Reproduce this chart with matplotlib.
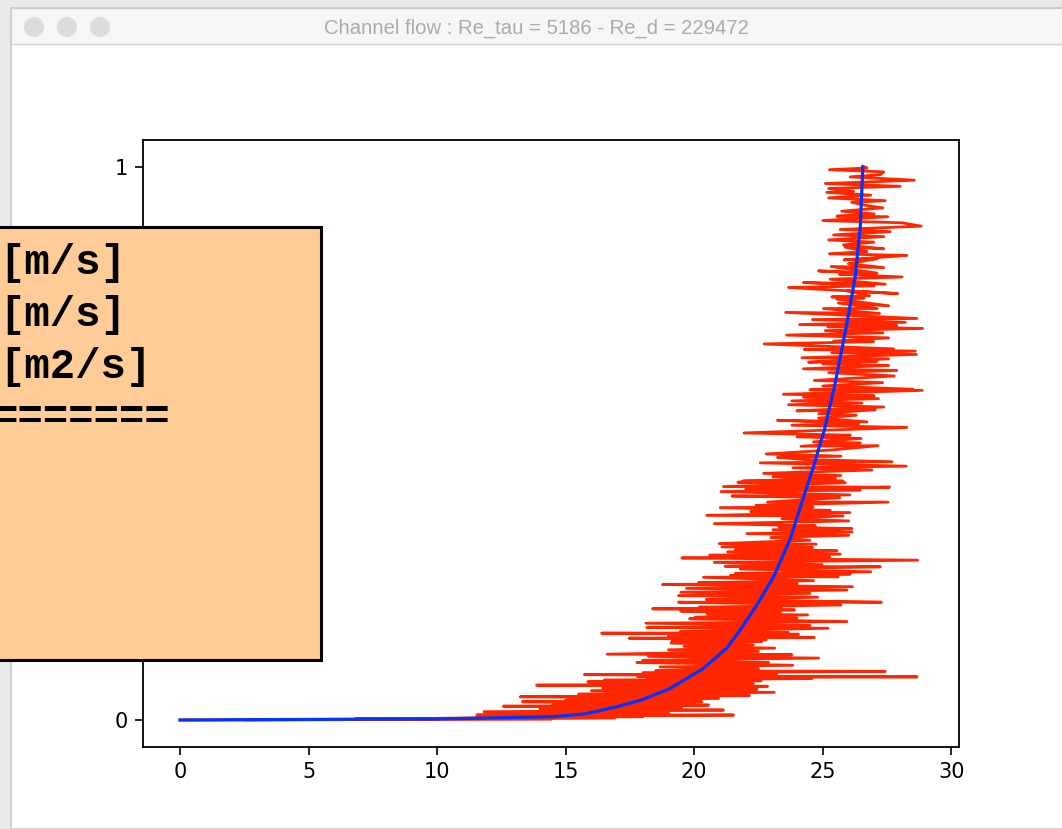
import matplotlib
matplotlib.use("Agg")
import matplotlib.pyplot as plt
from matplotlib.patches import Rectangle, Circle

W, H = 1062, 829
window_title = "Channel flow : Re_tau = 5186 - Re_d = 229472"
box_lines = ["[m/s]", "[m/s]", "[m2/s]", "======="]
x_ticks = [0, 5, 10, 15, 20, 25, 30]
y_ticks = [0.0, 1.0]

mean_u = [0, 2, 5, 7, 10, 11.28, 14.46, 15.75, 16.99, 18.0, 19.06, 19.71, 20.35, 21.27, 21.79,
          22.44, 23.09, 23.74, 24.26, 24.64, 24.84, 25.06, 25.48, 25.94, 26.26, 26.46, 26.56]
mean_y = [0, .0005, .001, .0015, .002, .003, .006, .011, .024, .037, .057, .075, .093, .130, .163,
          .208, .259, .328, .404, .458, .490, .524, .608, .717, .801, .891, 1.0]

inst_u = [26.56, 26.72, 25.26, 27.37, 27.24, 26.07, 28.56, 25.10, 28.01, 25.23, 26.20, 25.16, 26.87, 25.23,
          27.43, 26.13, 26.72, 27.34, 25.74, 27.00, 25.55, 27.53, 25.00, 28.08, 28.83, 25.68, 27.62, 25.42,
          27.37, 25.23, 26.98, 25.81, 27.37, 25.87, 26.72, 25.26, 28.27, 25.83, 27.11, 26.00, 27.37, 25.33,
          27.11, 24.84, 26.9, 25.65, 28.08, 25.29, 27.43, 24.25, 27.0, 23.67, 27.91, 25.94, 26.82, 25.35,
          26.6, 25.55, 27.56, 25.61, 27.11, 25.03, 27.21, 23.56, 28.66, 24.6, 28.21, 24.10, 27.88, 25.2,
          28.88, 25.1, 27.34, 23.60, 27.56, 25.42, 26.98, 22.72, 27.75, 24.28, 28.60, 25.35, 28.64, 24.19,
          27.56, 24.45, 27.11, 25.0, 27.56, 24.25, 27.88, 25.23, 27.78, 24.67, 27.33, 25.0, 28.51, 24.5, 28.87,
          23.47, 27.0, 24.25, 27.17, 23.80, 26.52, 23.67, 27.37, 23.99, 27.04, 24.84, 26.30, 24.84, 26.72, 23.24,
          26.4, 23.80, 28.27, 21.94, 26.07, 24.0, 26.49, 24.64, 26.46, 24.15, 27.15, 25.29, 22.80, 25.71, 23.24,
          24.26, 27.69, 22.57, 28.24, 23.84, 26.91, 22.70, 25.7, 23.06, 25.49, 21.89, 25.79, 21.7, 25.88, 21.14,
          27.60, 22.0, 26.46, 21.04, 26.05, 21.47, 25.66, 22.85, 27.54, 22.4, 24.62, 21.01, 25.29, 22.2, 26.05,
          20.49, 25.79, 23.41, 26.01, 20.78, 24.71, 23.3, 26.14, 23.06, 26.14, 22.05, 26.01, 22.98, 24.5, 20.97,
          24.74, 21.08, 24.6, 21.6, 25.55, 21.30, 25.68, 20.60, 25.27, 19.52, 28.69, 20.78, 24.97, 21.2, 27.24,
          21.79, 26.87, 21.6, 26.07, 21.40, 25.6, 20.36, 24.64, 20.17, 24.0, 18.77, 26.15, 19.7, 25.94, 19.48,
          24.5, 19.39, 24.8, 20.47, 27.28, 19.39, 25.71, 20.2, 23.4, 18.38, 23.9, 19.48, 23.35, 20.5, 24.41,
          20.04, 24.0, 19.82, 25.94, 18.12, 24.5, 18.16, 25.20, 19.46, 23.66, 16.40, 24.06, 19.0, 24.67, 17.47,
          22.8, 19.13, 22.63, 19.1, 22.3, 19.6, 23.13, 19.0, 22.5, 16.62, 23.80, 18.22, 24.84, 18.0, 22.89,
          17.77, 23.83, 18.67, 22.5, 18.5, 27.43, 18.0, 23.2, 15.73, 23.0, 17.8, 28.67, 18.15, 24.58, 16.5,
          22.6, 15.86, 22.3, 13.87, 22.85, 16.44, 22.44, 16.0, 23.11, 15.5, 22.15, 13.23, 20.95, 15.0, 20.30,
          13.32, 20.0, 14.5, 20.56, 12.58, 19.5, 14.0, 21.14, 11.82, 19.0, 11.54, 21.53, 12.0, 18.0, 10.0,
          16.92, 6.8, 14.46, 2.5, 10.0, 0]
inst_y = [1.001, .998, .995, .991, .986, .982, .976, .970, .965, .961, .956, .954, .949, .944,
          .939, .936, .930, .926, .920, .915, .911, .910, .903, .899, .893, .887, .883, .877,
          .874, .868, .864, .859, .852, .855, .847, .843, .840, .832, .834, .825, .818, .820,
          .808, .812, .807, .806, .801, .797, .788, .791, .785, .782, .771, .776, .767, .765,
          .763, .761, .749, .754, .744, .744, .735, .737, .726, .724, .719, .715, .713, .711,
          .708, .704, .700, .696, .691, .685, .684, .680, .671, .670, .667, .664, .661, .655,
          .653, .647, .649, .644, .641, .635, .632, .628, .622, .614, .610, .604, .598, .597, .596,
          .589, .586, .584, .581, .577, .573, .570, .566, .559, .561, .554, .551, .546, .539, .542,
          .536, .533, .529, .519, .515, .512, .509, .503, .501, .495, .496, .488, .481, .477, .475,
          .471, .467, .465, .459, .456, .452, .446, .442, .440, .437, .432, .432, .430, .429, .422,
          .421, .417, .416, .413, .407, .405, .402, .394, .394, .388, .385, .384, .379, .377, .375,
          .370, .369, .364, .360, .355, .351, .349, .346, .344, .340, .337, .334, .330, .325, .319,
          .318, .313, .312, .308, .306, .304, .300, .298, .295, .293, .289, .285, .281, .278, .277,
          .273, .268, .265, .264, .261, .259, .258, .252, .248, .247, .245, .241, .238, .235, .231,
          .229, .225, .222, .218, .213, .213, .208, .204, .202, .201, .199, .197, .194, .192, .190,
          .186, .184, .183, .178, .175, .171, .167, .166, .160, .158, .157, .155, .152, .149, .148,
          .145, .142, .142, .139, .136, .133, .130, .127, .124, .119, .118, .115, .112, .108, .104,
          .104, .099, .096, .093, .089, .088, .085, .083, .082, .080, .079, .078, .077, .075, .072,
          .071, .069, .066, .063, .061, .058, .056, .053, .050, .047, .044, .042, .039, .036, .033,
          .033, .030, .027, .027, .025, .022, .020, .018, .015, .012, .009, .009, .007, .006, .003,
          .004, .002, .002, .0005, .001, 0]

px = 1 / 100
fig = plt.figure(figsize=(W * px, H * px), dpi=100, facecolor="white")

def fx(v):
    return v / W

def fy(v):
    return 1 - v / H

# window chrome
fig.add_artist(Rectangle((0, 0), 1, 1, transform=fig.transFigure, fc="#e9e9e9", ec="none", zorder=-5))
fig.add_artist(Rectangle((fx(11), 0), 1, fy(8), transform=fig.transFigure, fc="white", ec="#c9c9c9", lw=1.2, zorder=-4))
fig.add_artist(Rectangle((fx(11), fy(44)), 1, 36 / H, transform=fig.transFigure, fc="#f6f6f6", ec="#cfcfcf", lw=1.0, zorder=-3))
for cx in (34, 67, 100):
    fig.add_artist(plt.Circle((cx, H - 27), 10, transform=None, fc="#dcdcdc", ec="none", zorder=-2))
fig.text(fx(536), fy(28), window_title, ha="center", va="center", color="#aaaaaa",
         family="Liberation Sans", fontsize=14.6, zorder=-1)

ax = fig.add_axes([fx(143), fy(747), 816 / W, 607 / H])
ax.set_facecolor("white")
ax.plot(inst_u, inst_y, color="#FF2600", lw=2.0)
ax.plot(mean_u, mean_y, color="#0433FF", lw=2.3)
ax.set_xlim(-1.44, 30.3)
ax.set_ylim(-0.0488, 1.0487)
ax.set_xticks(x_ticks)
ax.set_yticks(y_ticks)
ax.tick_params(labelsize=15, width=1.2, length=5.5, color="black", pad=5.5)
for s in ax.spines.values():
    s.set_linewidth(1.3)

# annotation box
fig.add_artist(Rectangle((fx(-20), fy(660)), 341 / W, 433 / H, transform=fig.transFigure,
                         fc="#FFCB96", ec="black", lw=2.2, zorder=5))
for line, base, left in zip(box_lines, (274, 326, 378, 429), (-1, -1, -1, -7)):
    fig.text(fx(left), fy(base), line, family="Liberation Mono", weight="bold",
             fontsize=30.5, color="black", ha="left", va="baseline", zorder=6)

fig.savefig("out.png", dpi=100)
print(len(inst_u), len(inst_y))
